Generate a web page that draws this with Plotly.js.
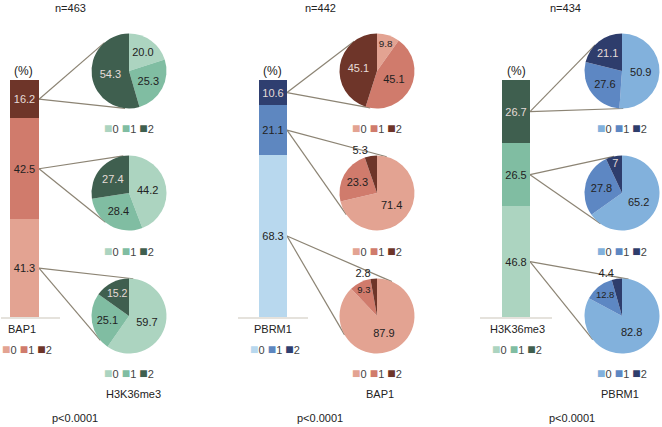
<!DOCTYPE html>
<html>
<head>
<meta charset="utf-8">
<script src="https://cdn.plot.ly/plotly-3.0.1.min.js"></script>
<style>html,body{margin:0;padding:0;background:#fff;}#chart{width:662px;height:427px;}</style>
</head>
<body>
<div id="chart"></div>
<script>
// ---------- data ----------
const panelTitles = ["n=463", "n=442", "n=434"];
const barMarkers = ["BAP1", "PBRM1", "H3K36me3"];
const pieMarkers = ["H3K36me3", "BAP1", "PBRM1"];
const levels = ["0", "1", "2"];
const pValues = ["p<0.0001", "p<0.0001", "p<0.0001"];

// bar values (bottom to top: 0, 1, 2), in %
const barBAP1 = ["41.3", "42.5", "16.2"];
const barPBRM1 = ["68.3", "21.1", "10.6"];
const barH3K36me3 = ["46.8", "26.5", "26.7"];

// pie values, pies listed top (level 2) to bottom (level 0); slices 0,1,2
const piesPanel1 = [["20.0", "25.3", "54.3"], ["44.2", "28.4", "27.4"], ["59.7", "25.1", "15.2"]];
const piesPanel2 = [["9.8", "45.1", "45.1"], ["71.4", "23.3", "5.3"], ["87.9", "9.3", "2.8"]];
const piesPanel3 = [["50.9", "27.6", "21.1"], ["65.2", "27.8", "7"], ["82.8", "12.8", "4.4"]];

// colours
const colBAP1 = ["#e3a392", "#d07b6c", "#6e3529"];
const colPBRM1Bar = ["#b8d8ee", "#5e87c0", "#2f3f70"];
const colPBRM1Pie = ["#82b1dc", "#5d87c3", "#2e3d6c"];
const colH3 = ["#acd4c0", "#80bda2", "#3f5f4f"];

// ---------- layout geometry (pixels) ----------
const W = 662, H = 427;
const FONT = "Liberation Sans, Arial, sans-serif";
const TXT = "#222";
const px = x => x / W, py = y => 1 - y / H;

const barTop = 80, barBottom = 317;
const panels = [
  {bar: barBAP1, barCol: colBAP1, pies: piesPanel1, pieCol: colH3, barX: [10, 39], base: [1, 60], pieCx: 129, title: 70, pct: 23, lab: 22, leg: 27, pTitle: 133, pTxt: 75},
  {bar: barPBRM1, barCol: colPBRM1Bar, pies: piesPanel2, pieCol: colBAP1, barX: [259, 287], base: [238, 308], pieCx: 377, title: 320, pct: 272, lab: 273, leg: 275, pTitle: 380, pTxt: 320},
  {bar: barH3K36me3, barCol: colH3, pies: piesPanel3, pieCol: colPBRM1Pie, barX: [502, 530], base: [480, 552], pieCx: 622, title: 565, pct: 516, lab: 517, leg: 517, pTitle: 620, pTxt: 572}
];
const pieRowsY = [71, 193, 316];
const pieR = 37.5;
const pieLegY = [128, 251, 373];

const traces = [], shapes = [], annotations = [];
const isDark = c => c === colBAP1[2] || c === colPBRM1Bar[2] || c === colH3[2] || c === colPBRM1Pie[2];

function legendText(cols) {
  return levels.map((l, i) => `<span style="color:${cols[i]};font-size:14px">■</span>${l}`).join(" ");
}

panels.forEach((p, k) => {
  const ax = k === 0 ? "" : String(k + 1);
  const vals = p.bar.map(Number);
  // stacked bar
  vals.forEach((v, i) => {
    traces.push({
      type: "bar", x: [0], y: [v], text: [p.bar[i]], textposition: "inside", insidetextanchor: "middle",
      textangle: 0, constraintext: "none",
      textfont: {family: FONT, size: 11, color: i === 2 ? "#e6dcd8" : TXT},
      marker: {color: p.barCol[i], line: {width: 0}}, width: 1,
      xaxis: "x" + ax, yaxis: "y" + ax, hoverinfo: "skip", showlegend: false
    });
  });
  // pies: top pie for level 2, middle for level 1, bottom for level 0
  let cum = 0;
  const mids = vals.map(v => { const m = cum + v / 2; cum += v; return m; });
  p.pies.forEach((pv, j) => {
    const cy = pieRowsY[j], cx = p.pieCx;
    const nums = pv.map(Number);
    traces.push({
      type: "pie", values: nums, labels: levels, text: pv, textinfo: "text", sort: false,
      direction: "clockwise", rotation: 0,
      textposition: nums.map(v => v < 6 ? "outside" : "inside"),
      insidetextorientation: "horizontal",
      textfont: {family: FONT, size: 11, color: p.pieCol.map(c => isDark(c) ? "#e6dcd8" : TXT)},
      outsidetextfont: {family: FONT, size: 11, color: TXT},
      marker: {colors: p.pieCol, line: {width: 0}},
      domain: {x: [px(cx - pieR), px(cx + pieR)], y: [py(cy + pieR), py(cy - pieR)]},
      hoverinfo: "skip", showlegend: false
    });
    // connecting tangent lines from bar segment to pie
    const level = 2 - j;
    const sy = barBottom - mids[level] / 100 * (barBottom - barTop);
    const sx = p.barX[1];
    const dx = sx - cx, dy = sy - cy, d = Math.hypot(dx, dy);
    const th = Math.acos(pieR / d), a = Math.atan2(dy, dx);
    [a + th, a - th].forEach(t => {
      shapes.push({type: "line", xref: "paper", yref: "paper", layer: "below",
        x0: px(sx), y0: py(sy), x1: px(cx + pieR * Math.cos(t)), y1: py(cy + pieR * Math.sin(t)),
        line: {color: "#8c8474", width: 1.2}});
    });
    annotations.push({xref: "paper", yref: "paper", x: px(cx), y: py(pieLegY[j]), text: legendText(p.pieCol),
      showarrow: false, font: {family: FONT, size: 11, color: "#444"}, xanchor: "center", yanchor: "middle"});
  });
  // baseline
  shapes.push({type: "line", xref: "paper", yref: "paper", x0: px(p.base[0]), x1: px(p.base[1]),
    y0: py(barBottom + 1), y1: py(barBottom + 1), line: {color: "#dcd8d0", width: 1.5}});
  // texts
  const t = (x, y, s, size) => annotations.push({xref: "paper", yref: "paper", x: px(x), y: py(y), text: s,
    showarrow: false, font: {family: FONT, size: size || 11, color: TXT}, xanchor: "center", yanchor: "middle"});
  t(p.title, 8, panelTitles[k]);
  t(p.pct, 71, "(%)", 12);
  t(p.lab, 329, barMarkers[k]);
  t(p.pTitle, 394, pieMarkers[k]);
  t(p.pTxt, 418, pValues[k]);
  annotations.push({xref: "paper", yref: "paper", x: px(p.leg), y: py(349), text: legendText(p.barCol),
    showarrow: false, font: {family: FONT, size: 11, color: "#444"}, xanchor: "center", yanchor: "middle"});
});

const layout = {
  width: W, height: H, margin: {l: 0, r: 0, t: 0, b: 0},
  paper_bgcolor: "#fff", plot_bgcolor: "rgba(0,0,0,0)",
  barmode: "stack", bargap: 0, showlegend: false, hovermode: false,
  shapes: shapes, annotations: annotations
};
panels.forEach((p, k) => {
  const ax = k === 0 ? "" : String(k + 1);
  layout["xaxis" + ax] = {domain: [px(p.barX[0]), px(p.barX[1])], range: [-0.5, 0.5], visible: false, fixedrange: true};
  layout["yaxis" + ax] = {domain: [py(barBottom), py(barTop)], range: [0, 100], visible: false, fixedrange: true};
});

Plotly.newPlot("chart", traces, layout, {displayModeBar: false, staticPlot: true});
</script>
</body>
</html>
